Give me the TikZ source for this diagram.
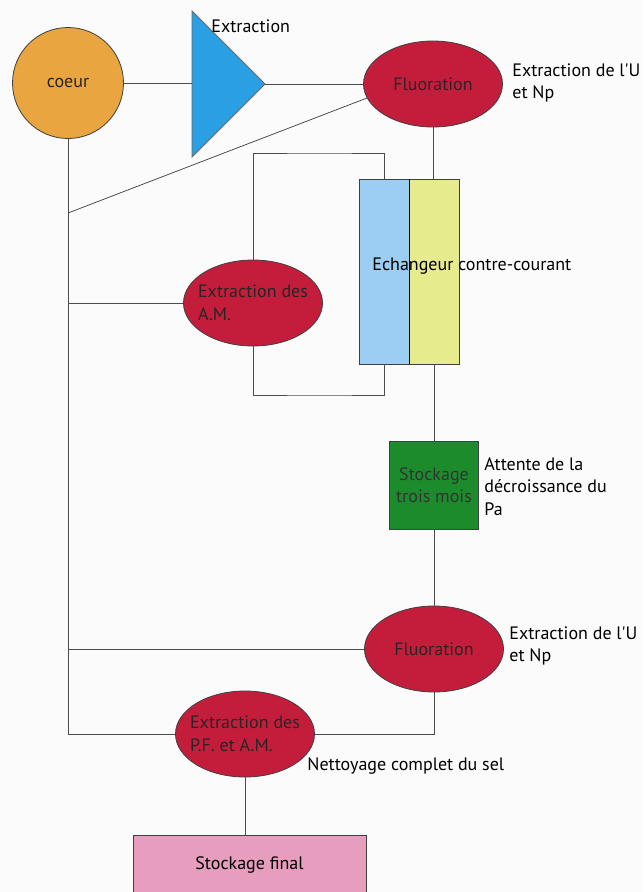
\documentclass[tikz,border=0pt]{standalone}
\usepackage{fontspec}
\setmainfont{PT Sans}
\usepackage{xcolor}
\usepackage{tikz}
\usetikzlibrary{shapes.geometric}
\definecolor{fond}{HTML}{FBFBFB}
\definecolor{orangecoeur}{HTML}{E9A53F}
\definecolor{bleutri}{HTML}{2B9FE3}
\definecolor{rouge}{HTML}{C41D3B}
\definecolor{bleuech}{HTML}{9CCDF2}
\definecolor{jaune}{HTML}{E6EB8E}
\definecolor{vert}{HTML}{1B8B2C}
\definecolor{rose}{HTML}{E69DBE}
\tikzset{ell/.style={ellipse,draw=black!75,fill=rouge,minimum width=139pt,minimum height=86pt,inner sep=-15pt,align=left,text=black!85,font=\fontsize{18}{23}\selectfont},
  boite/.style={rectangle,draw=black!75,inner sep=0pt},
  txt/.style={align=left,inner sep=0pt,font=\fontsize{18}{22.5}\selectfont}}

\begin{document}
\begin{tikzpicture}[x=1pt,y=-1pt,line width=0.8pt,draw=black!70]
        \fill[fond] (0,0) rectangle (643,892);
        \useasboundingbox (0,0) rectangle (643,892);

        \node[ell,fill=orangecoeur,minimum width=111pt,minimum height=111pt] (coeur) at (68,83) {coeur};
        \draw[fill=bleutri,draw=black!60] (192,11) -- (265,84) coordinate (triP) -- (192,157) -- cycle;
        \coordinate (triW) at (192,83);
        \node[txt,anchor=west] (lextr) at (211,26) {Extraction};
        \node[ell] (fluo1) at (433,84) {Fluoration};
        \node[txt,anchor=north west] (lfluo1) at (512,63) {Extraction de l\textquotesingle U\\et Np};

        \node[boite,fill=bleuech,minimum width=50pt,minimum height=185pt] (ech1) at (384,271.5) {};
        \node[boite,fill=jaune,minimum width=50pt,minimum height=185pt] (ech2) at (434,271.5) {};
        \draw[line width=1.6pt,draw=black] (ech1.north east) -- (ech1.south east);
        \node[txt,anchor=west] (lech) at (372,266) {Echangeur contre-courant};
        \node[ell] (xam) at (253,303) {Extraction des\\A.M.};

        \node[boite,fill=vert,minimum width=89pt,minimum height=88pt,align=center,text=black!80,font=\fontsize{18}{22}\selectfont] (stock3) at (434,485) {Stockage\\trois mois};
        \node[txt,anchor=north west] (lstock) at (484,457) {Attente de la\\décroissance du\\Pa};

        \node[ell] (fluo2) at (434,649) {Fluoration};
        \node[txt,anchor=north west] (lfluo2) at (509,626) {Extraction de l\textquotesingle U\\et Np};
        \node[ell] (xpf) at (245,734) {Extraction des\\P.F. et A.M.};
        \node[txt,anchor=west] (lxpf) at (307,766) {Nettoyage complet du sel};
        \node[boite,fill=rose,minimum width=233pt,minimum height=60pt,font=\fontsize{18}{20}\selectfont] (final) at (249.5,865) {Stockage final};

        % liaisons
        \coordinate (diag) at (68,213);
        \coordinate (bh) at (320,153);
        \coordinate (bb) at (320,395);
        \draw (coeur) -- (triW);
        \draw (triP) -- (fluo1);
        \draw (diag) -- (fluo1.192);
        \draw (fluo1.south) -- (fluo1.south |- ech2.north);
        \draw (xam.north) |- (bh) -| (ech1.north);
        \draw (xam.south) |- (bb) -| (ech1.south);
        \draw (coeur.south |- xam.west) -- (xam.west);
        \draw (ech2.south) -- (stock3.north);
        \draw (stock3.south) -- (fluo2.north);
        \draw (coeur.south |- fluo2.west) -- (fluo2.west);
        \draw (coeur.south) |- (xpf.west);
        \draw (fluo2.south) |- (xpf.east);
        \draw (xpf.south) -- (xpf.south |- final.north);
    \end{tikzpicture}
\end{document}
